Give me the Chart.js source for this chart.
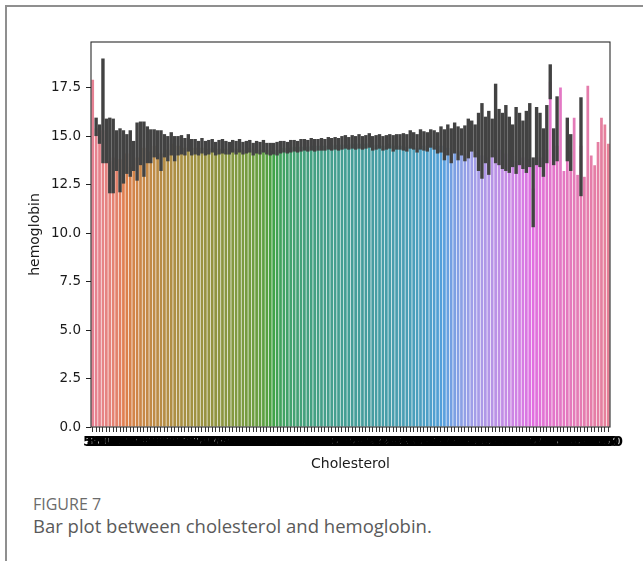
<!DOCTYPE html>
<html>
<head>
<meta charset="utf-8">
<script src="https://cdn.jsdelivr.net/npm/chart.js@4/dist/chart.umd.min.js"></script>
<style>
  body { margin: 0; background: #fff; }
  #page { position: relative; width: 643px; height: 561px; overflow: hidden; }
  #frame { position: absolute; left: 5px; top: 5px; width: 650px; height: 570px;
           border-left: 2px solid #8f8f8f; border-top: 2px solid #8f8f8f; }
  #wrap { position: absolute; left: 0; top: 0; width: 643px; height: 480px; }
  #fig { position: absolute; left: 33px; top: 493px; font: 16px "Open Sans", sans-serif; color: #6b6b6b; }
  #cap { position: absolute; left: 33px; top: 513px; font: 18.5px "Open Sans", sans-serif; color: #5a5a5a; }
</style>
</head>
<body>
<div id="page">
  <div id="frame"></div>
  <div id="wrap"><canvas id="chart"></canvas></div>
  <div id="fig">FIGURE 7</div>
  <div id="cap">Bar plot between cholesterol and hemoglobin.</div>
</div>
<script>
// cholesterol categories (x axis)
const cholesterol = [
  58, 85, 100, 110, 115, 120, 126, 129, 131, 135,
  139, 141, 143, 145, 147, 149, 150, 152, 154, 155,
  157, 159, 160, 161, 163, 164, 165, 166, 167, 168,
  169, 170, 171, 172, 173, 174, 175, 176, 177, 178,
  179, 180, 181, 182, 183, 184, 185, 186, 187, 188,
  189, 190, 191, 192, 193, 194, 195, 196, 197, 198,
  199, 200, 201, 202, 203, 204, 205, 206, 207, 208,
  209, 210, 211, 212, 213, 214, 215, 216, 217, 218,
  219, 220, 221, 222, 223, 224, 225, 226, 227, 228,
  229, 230, 231, 232, 233, 234, 235, 236, 237, 238,
  239, 240, 241, 242, 243, 244, 245, 246, 247, 248,
  249, 250, 251, 252, 253, 254, 255, 256, 257, 258,
  259, 260, 261, 262, 264, 265, 267, 268, 270, 272,
  274, 276, 278, 280, 283, 286, 289, 293, 297, 302,
  308, 315, 322, 330, 340, 352, 365, 380, 400, 425,
  460, 500
];

// mean hemoglobin per cholesterol value
const hemoglobin = [
  17.9, 15.4, 15.2, 15.3, 14.8, 13.7, 13.9, 14.2, 13.8, 13.9,
  14.1, 13.4, 13.6, 13.9, 14.4, 14.4, 14.5, 14.2, 14.5, 14.3,
  14.1, 14.5, 14.3, 14.6, 14.3, 14.5, 14.4, 14.4, 14.6, 14.4,
  14.4, 14.3, 14.4, 14.3, 14.35, 14.4, 14.3, 14.35, 14.4, 14.35,
  14.3, 14.4, 14.35, 14.4, 14.3, 14.35, 14.4, 14.3, 14.35, 14.3,
  14.4, 14.3, 14.25, 14.3, 14.3, 14.35, 14.4, 14.35, 14.4, 14.45,
  14.4, 14.45, 14.5, 14.45, 14.5, 14.45, 14.5, 14.45, 14.5, 14.55,
  14.5, 14.55, 14.5, 14.55, 14.6, 14.55, 14.6, 14.55, 14.6, 14.55,
  14.6, 14.65, 14.5, 14.55, 14.6, 14.5, 14.55, 14.6, 14.5, 14.55,
  14.5, 14.5, 14.45, 14.55, 14.5, 14.4, 14.55, 14.5, 14.45, 14.6,
  14.5, 14.4, 14.5, 14.3, 14.4, 14.1, 14.5, 14.2, 14.4, 14.1,
  14.3, 14.5, 14.2, 14.1, 14.0, 14.2, 13.9, 14.3, 14.1, 14.3,
  13.9, 14.1, 13.8, 14.0, 13.7, 14.2, 13.9, 13.6, 13.8, 12.3,
  14.2, 13.9, 13.4, 14.3, 17.8, 14.2, 14.5, 17.5, 13.2, 14.8,
  14.2, 15.95, 13.0, 14.5, 12.9, 17.6, 14.0, 13.5, 14.7, 15.95,
  15.6, 14.6
];

// confidence interval ends (null = single sample, no bar drawn)
const ciLow = [
  null, 15.0, 14.6, 13.6, 13.6, 12.05, 12.05, 13.2, 12.1, 12.55,
  13.05, 12.9, 13.2, 12.7, 13.5, 12.9, 13.6, 13.6, 13.9, 13.8,
  13.2, 13.9, 13.7, 14.0, 13.7, 14.0, 14.05, 14.0, 14.2, 14.0,
  14.05, 14.0, 14.1, 14.0, 14.05, 14.15, 14.0, 14.05, 14.1, 14.05,
  14.05, 14.15, 14.05, 14.15, 14.05, 14.1, 14.15, 14.0, 14.1, 14.05,
  14.15, 14.05, 14.0, 14.05, 14.0, 14.1, 14.15, 14.1, 14.15, 14.2,
  14.15, 14.2, 14.25, 14.2, 14.25, 14.2, 14.25, 14.25, 14.25, 14.3,
  14.25, 14.3, 14.25, 14.3, 14.35, 14.3, 14.35, 14.3, 14.35, 14.3,
  14.35, 14.4, 14.25, 14.3, 14.35, 14.25, 14.3, 14.35, 14.2, 14.3,
  14.3, 14.25, 14.2, 14.35, 14.3, 14.15, 14.3, 14.25, 14.2, 14.4,
  14.3, 14.1, 14.15, 13.75, 14.0, 13.6, 14.1, 13.75, 14.0, 13.7,
  13.85, 14.2, 13.9, 13.2, 12.8, 13.6, 13.0, 13.9, 13.6, 13.5,
  13.3, 13.2, 13.1, 13.4, 13.05, 13.5, 13.3, 13.1, 13.4, 10.3,
  13.5, 13.4, 12.9, 13.6, 16.9, 13.5, 13.7, null, null, 13.7,
  13.2, null, null, 11.9, null, null, null, null, null, null,
  null, null
];
const ciHigh = [
  null, 15.95, 15.6, 19.0, 15.9, 15.95, 15.9, 15.3, 15.4, 15.3,
  15.1, 15.3, 14.75, 15.7, 15.75, 15.75, 15.5, 15.35, 15.35, 15.3,
  15.3, 15.1, 15.0, 15.2, 15.0, 15.0, 15.05, 14.9, 15.1, 14.85,
  14.85, 14.75, 14.9, 14.75, 14.8, 14.85, 14.7, 14.8, 14.85, 14.75,
  14.7, 14.8, 14.75, 14.85, 14.7, 14.75, 14.8, 14.65, 14.75, 14.7,
  14.8, 14.65, 14.65, 14.65, 14.7, 14.75, 14.75, 14.7, 14.8, 14.8,
  14.75, 14.85, 14.85, 14.8, 14.9, 14.85, 14.85, 14.9, 14.85, 14.95,
  14.9, 14.95, 14.9, 15.0, 15.05, 14.95, 15.05, 15.0, 15.1, 15.0,
  15.05, 15.15, 15.0, 15.05, 15.1, 15.0, 15.05, 15.1, 15.05, 15.1,
  15.1, 15.15, 15.1, 15.3, 15.2, 15.1, 15.35, 15.25, 15.2, 15.35,
  15.3, 15.2, 15.5, 15.35, 15.6, 15.4, 15.7, 15.5, 15.4, 15.55,
  15.9, 15.8, 15.6, 16.2, 16.7, 16.0, 16.3, 15.9, 17.7, 16.4,
  16.2, 16.6, 16.0, 15.6, 16.5, 16.2, 15.8, 16.3, 16.7, 13.9,
  16.5, 16.2, 15.4, 16.6, 18.7, 15.4, 17.05, null, null, 15.95,
  15.1, null, null, 17.0, null, null, null, null, null, null,
  null, null
];

const yTicks = [0, 2.5, 5, 7.5, 10, 12.5, 15, 17.5];

// seaborn-style husl palette, then desaturated to 0.75 like barplot
const M = [[3.2406, -1.5372, -0.4986], [-0.9689, 1.8758, 0.0415], [0.0557, -0.2040, 1.0570]];
const REF_U = 0.19784, REF_V = 0.46834;

function maxChroma(L, H) {
  const hr = H * Math.PI / 180, sinH = Math.sin(hr), cosH = Math.cos(hr);
  const sub1 = Math.pow(L + 16, 3) / 1560896;
  const sub2 = sub1 > 0.008856 ? sub1 : L / 903.3;
  let result = Infinity;
  for (const [m1, m2, m3] of M) {
    const top = (0.99915 * m1 + 1.05122 * m2 + 1.14460 * m3) * sub2;
    const rb = 0.86330 * m3 - 0.17266 * m2;
    const lb = 0.12949 * m3 - 0.38848 * m1;
    const bottom = (rb * sinH + lb * cosH) * sub2;
    for (const t of [0, 1]) {
      const C = L * (top - 1.05122 * t) / (bottom + 0.17266 * sinH * t);
      if (C > 0 && C < result) result = C;
    }
  }
  return result;
}

function huslToRgb(H, S, L) {
  const C = maxChroma(L, H) / 100 * S;
  const hr = H * Math.PI / 180;
  const U = Math.cos(hr) * C, V = Math.sin(hr) * C;
  const Y = Math.pow((L + 16) / 116, 3);
  const vu = U / (13 * L) + REF_U, vv = V / (13 * L) + REF_V;
  const X = -(9 * Y * vu) / ((vu - 4) * vv - vu * vv);
  const Z = (9 * Y - 15 * vv * Y - vv * X) / (3 * vv);
  return M.map(r => {
    const c = r[0] * X + r[1] * Y + r[2] * Z;
    const g = c <= 0.0031308 ? 12.92 * c : 1.055 * Math.pow(c, 1 / 2.4) - 0.055;
    return Math.min(1, Math.max(0, g));
  });
}

function desaturate([r, g, b], prop) {
  const mx = Math.max(r, g, b), mn = Math.min(r, g, b);
  const l = (mx + mn) / 2;
  if (mx === mn) return [r, g, b];
  let s = l <= 0.5 ? (mx - mn) / (mx + mn) : (mx - mn) / (2 - mx - mn);
  const rc = (mx - r) / (mx - mn), gc = (mx - g) / (mx - mn), bc = (mx - b) / (mx - mn);
  let h = r === mx ? bc - gc : g === mx ? 2 + rc - bc : 4 + gc - rc;
  h = ((h / 6) % 1 + 1) % 1;
  s *= prop;
  const m2 = l <= 0.5 ? l * (1 + s) : l + s - l * s, m1 = 2 * l - m2;
  const v = (hh) => {
    hh = ((hh % 1) + 1) % 1;
    if (hh < 1 / 6) return m1 + (m2 - m1) * hh * 6;
    if (hh < 0.5) return m2;
    if (hh < 2 / 3) return m1 + (m2 - m1) * (2 / 3 - hh) * 6;
    return m1;
  };
  return [v(h + 1 / 3), v(h), v(h - 1 / 3)];
}

const n = cholesterol.length;
const barColors = cholesterol.map((_, i) => {
  const h = ((i / n + 0.01) % 1) * 359;
  const rgb = desaturate(huslToRgb(h, 0.9 * 99, 0.65 * 99), 0.75);
  return `rgb(${rgb.map(c => Math.round(c * 255)).join(',')})`;
});

// CI lines + axes box drawn after the bars
const errorBars = {
  id: 'errorBars',
  afterDatasetsDraw(chart) {
    const { ctx, chartArea: a, scales: { x, y } } = chart;
    ctx.save();
    ctx.strokeStyle = '#424242';
    ctx.lineWidth = 3.4;
    ctx.lineCap = 'butt';
    ciLow.forEach((lo, i) => {
      if (lo === null) return;
      const px = x.getPixelForValue(i);
      ctx.beginPath();
      ctx.moveTo(px, y.getPixelForValue(lo));
      ctx.lineTo(px, y.getPixelForValue(ciHigh[i]));
      ctx.stroke();
    });
    ctx.strokeStyle = '#2b2b2b';
    ctx.lineWidth = 1.1;
    ctx.strokeRect(a.left, a.top, a.right - a.left, a.bottom - a.top);
    ctx.restore();
  }
};

const font = { family: '"DejaVu Sans", sans-serif', size: 13.5 };

new Chart(document.getElementById('chart'), {
  type: 'bar',
  data: {
    labels: cholesterol,
    datasets: [{
      data: hemoglobin,
      backgroundColor: barColors,
      borderWidth: 0,
      barPercentage: 0.8,
      categoryPercentage: 1.0
    }]
  },
  options: {
    responsive: true,
    maintainAspectRatio: false,
    animation: false,
    layout: { padding: { left: 23, top: 42, right: 33, bottom: 3 } },
    plugins: { legend: { display: false }, tooltip: { enabled: false } },
    scales: {
      x: {
        border: { display: false },
        grid: { drawOnChartArea: false, offset: false, tickLength: 5, color: '#000', lineWidth: 0.8 },
        ticks: { autoSkip: false, maxRotation: 0, minRotation: 0, color: '#000',
                 font: { family: font.family, size: 14, weight: 'bold' }, padding: 2 },
        title: { display: true, text: 'Cholesterol', color: '#1a1a1a', font: { family: font.family, size: 14 } },
        afterFit: s => { s.height = 50; }
      },
      y: {
        min: 0,
        max: 19.85,
        border: { display: false },
        afterBuildTicks: s => { s.ticks = yTicks.map(v => ({ value: v })); },
        grid: { drawOnChartArea: false, tickLength: 5, color: '#222', lineWidth: 1 },
        ticks: { color: '#1a1a1a', font, padding: 5, callback: v => v.toFixed(1) },
        title: { display: true, text: 'hemoglobin', color: '#1a1a1a', font: { family: font.family, size: 14 } },
        afterFit: s => { s.width = 68; }
      }
    }
  },
  plugins: [errorBars]
});
</script>
</body>
</html>
